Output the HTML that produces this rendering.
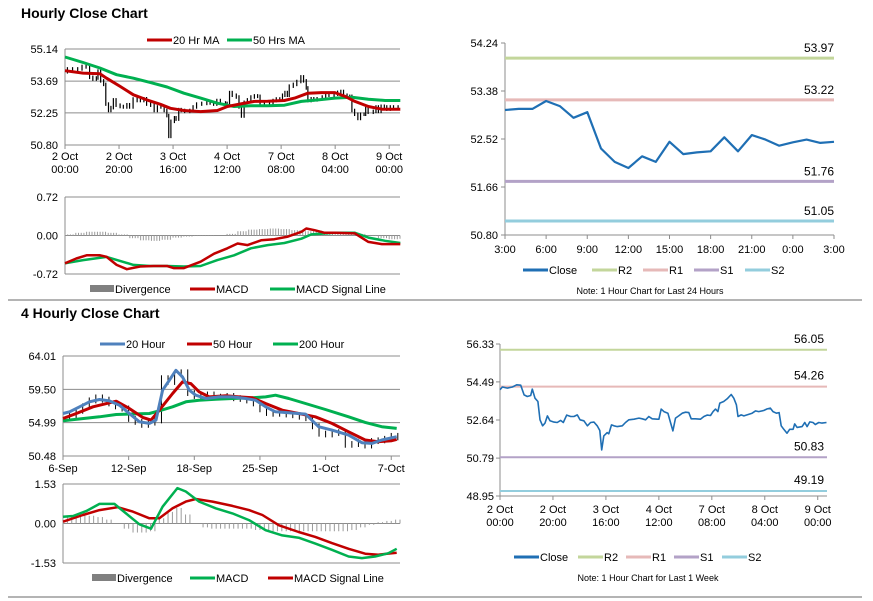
<!DOCTYPE html>
<html><head><meta charset="utf-8"><style>
html,body{margin:0;padding:0;background:#fff;}
svg{display:block;font-family:"Liberation Sans",Arial,sans-serif;}
</style></head><body>
<svg id="s" width="873" height="601" viewBox="0 0 873 601" xmlns="http://www.w3.org/2000/svg">
<text x="21" y="18" font-size="14" font-weight="bold">Hourly Close Chart</text>
<text x="21" y="318" font-size="14" font-weight="bold">4 Hourly Close Chart</text>
<line x1="8" y1="300" x2="862" y2="300" stroke="#888" stroke-width="1.2"/>
<line x1="8" y1="597" x2="862" y2="597" stroke="#888" stroke-width="1.2"/>
</svg>
<script>
// ---- Hourly / weekly close (hours index) ----
const wkHours=[0,0.9,2.8,4.7,6.3,7.8,9.1,10.3,11.6,12.2,13.2,14.3,15.1,16.1,17,17.9,18.9,20.4,21.6,22.9,23.9,25.2,26.7,27.9,29.2,30.2,31.7,33,34.2,35.5,36.7,37.7,38.4,39.2,40.5,41.1,42.1,43,44.3,46.2,47.4,48.7,50.6,52.5,53.7,55,56.2,57.5,59.4,60,60.9,61.9,63.4,64.4,65.3,66.3,67.5,68.8,70.1,71.3,72.2,73.8,75.7,77,78.2,79.5,80.5,81.4,82.3,83,84.5,85.8,87.3,88.3,89.3,89.9,91.1,92.1,93.3,95.2,96.5,97.7,99.6,100.9,102.1,103.1,104.4,105.4,106.2,107.2,108.4,109.4,110.7,111.3,112.2,114.1,115.1,116,117,118.2,119.1,120.4,121.6,123.3];
const wkClose=[54.11,54.24,54.19,54.24,54.35,54.33,53.86,53.78,53.83,54.14,53.70,53.54,52.65,52.36,52.49,52.84,52.60,52.54,52.52,52.62,52.52,52.88,52.81,52.81,52.89,52.65,52.60,52.36,52.52,52.54,52.36,52.13,51.19,51.87,52.03,51.97,52.40,52.36,52.32,52.36,52.52,52.65,52.68,52.73,52.70,52.65,52.81,52.70,52.68,52.68,53.17,53.05,52.97,52.52,52.11,52.73,52.84,52.97,53.02,53.00,52.70,52.70,52.68,52.81,52.88,52.86,53.05,53.17,53.05,53.46,53.54,53.67,53.88,53.70,53.38,52.81,52.89,52.84,52.89,52.97,53.08,53.05,53.10,53.18,53.22,53.05,52.97,53.00,52.36,52.19,52.00,52.19,52.19,52.45,52.28,52.32,52.52,52.32,52.55,52.52,52.42,52.52,52.49,52.52];
const ma20H=[0,6.7,12.9,15.4,20.4,25.3,30.3,35.3,39,44,50.2,56.4,60.1,65.1,70.1,75,81.2,85,89.9,94.9,99.9,103.6,107.3,112.3,117.3,124.1];
const ma20V=[54.16,54.05,54.02,53.82,53.45,53.07,52.84,52.64,52.46,52.36,52.31,52.36,52.54,52.66,52.77,52.78,52.81,52.92,53.14,53.17,53.17,53.00,52.77,52.54,52.42,52.42];
const ma50H=[0,6.7,12.9,19.1,25.3,31.5,37.8,44,50.2,56.4,62.6,68.8,75,81.2,87.5,93.7,99.9,106.2,112.3,118.5,124.1];
const ma50V=[54.78,54.53,54.28,53.98,53.82,53.63,53.42,53.14,52.92,52.69,52.54,52.57,52.57,52.60,52.77,52.84,52.92,52.96,52.87,52.81,52.81];
const macdH=[0,4.2,8,13,15.4,19.1,22.9,27.8,32.8,37.8,40.2,44,50.2,55.2,60.1,63.9,67.6,72.6,77.5,82.5,87.5,89.3,92.4,96.1,99.9,107.3,112.3,117.3,124.1];
const macdV=[-0.52,-0.43,-0.37,-0.37,-0.40,-0.55,-0.63,-0.58,-0.57,-0.57,-0.61,-0.61,-0.49,-0.34,-0.24,-0.15,-0.18,-0.09,-0.07,-0.02,0.07,0.13,0.10,0.05,0.05,0.04,-0.12,-0.16,-0.16];
const sigH=[0,6.7,15.4,25.3,31.5,37.8,44,50.2,56.4,62.6,68.8,75,81.2,87.5,91.2,99.9,107.3,112.3,118.5,124.1];
const sigV=[-0.52,-0.46,-0.40,-0.55,-0.57,-0.57,-0.58,-0.57,-0.46,-0.37,-0.24,-0.18,-0.14,-0.06,0.02,0.05,0.05,-0.04,-0.10,-0.14];
const divStep=4;
const divV=[0.02,0.05,0.07,0.07,0.05,0.02,-0.05,-0.09,-0.10,-0.08,-0.04,-0.02,-0.01,-0.01,0,0.03,0.08,0.11,0.12,0.13,0.12,0.10,0.08,0.09,0.06,0.05,0.03,0.03,0.01,-0.05,-0.07,-0.06];
const hourTickH=[0,20,40,60,80,100,120];
const hourTickL1=["2 Oct","2 Oct","3 Oct","4 Oct","7 Oct","8 Oct","9 Oct"];
const hourTickL2=["00:00","20:00","16:00","12:00","08:00","04:00","00:00"];
const p1Ticks=[55.14,53.69,52.25,50.80];
const m1Ticks=[0.72,0.00,-0.72];
// ---- 24h chart ----
const dayClose=[53.04,53.06,53.06,53.20,53.11,52.90,53.00,52.35,52.11,52.00,52.21,52.11,52.47,52.25,52.28,52.30,52.55,52.30,52.59,52.51,52.40,52.46,52.51,52.45,52.47];
const dayTicks=["3:00","6:00","9:00","12:00","15:00","18:00","21:00","0:00","3:00"];
const dayY=[54.24,53.38,52.52,51.66,50.80];
const dayLevels=[53.97,53.22,51.76,51.05];
const wkY=[56.33,54.49,52.64,50.79,48.95];
const wkLevels=[56.05,54.26,50.83,49.19];
const levelNames=["R2","R1","S1","S2"];
// ---- 4 hourly (bar index) ----
const c4Step=3;
const c4Close=[56.2,55.9,56.6,57.2,58.0,58.4,58.1,57.6,57.2,56.9,55.5,55.1,54.7,55.0,55.3,61.0,60.5,61.5,61.8,59.0,58.6,58.7,58.8,58.4,58.5,58.6,58.3,58.2,58.0,57.6,56.8,56.3,56.2,56.3,56.1,56.0,55.8,55.6,54.5,53.5,53.4,53.6,53.7,52.0,52.1,52.4,51.9,52.5,52.6,52.8,53.2,53.0];
const h20B=[0,3,7.6,12.1,16.7,21.2,25.8,30.3,34.9,39.5,42.5,45.5,48.6,51.6,54.6,57.7,60.7,65.3,71.3,77.4,83.5,88,92.6,97.1,103.2,110.8,116.8,122.9,130.5,136.6,141.1,145.7,152.5];
const h20V=[56.23,56.46,57.13,57.81,58.12,57.94,57.36,56.23,55.11,54.89,55.34,59.38,60.73,62.08,61.18,59.38,58.71,58.26,58.48,58.48,58.26,58.03,57.13,56.46,56.33,56.15,54.44,53.99,53.31,52.28,52.19,52.64,53.09];
const h50B=[0,6.1,13.7,24.3,30.3,36.4,40.2,44,50.1,54.6,58.4,62.2,66.8,74.4,80.4,86.5,92.6,100.2,107.7,115.3,122.9,130.5,138.1,144.1,150.2,152.5];
const h50V=[55.56,56.23,57.13,57.90,56.91,55.70,55.34,56.68,58.93,60.50,60.28,59.16,58.48,58.62,58.48,58.35,57.58,56.68,56.23,55.79,54.89,53.76,52.64,52.41,52.55,52.73];
const h200B=[0,16.7,24.3,39.5,44,50.1,56.2,62.2,69.8,77.4,86.5,92.6,97.1,103.2,110.8,119.9,130.5,138.1,145.7,152.5];
const h200V=[55.25,55.79,56.10,56.23,56.59,57.13,57.81,58.03,58.17,58.26,58.35,58.48,58.71,58.26,57.58,56.77,55.79,55.02,54.44,54.21];
const m4B=[0,4.6,10.6,16.7,23.5,28.8,34.9,40.2,45.5,52.3,56.1,62.2,69.8,77.4,85,92.6,100.2,107.7,115.3,122.9,130.5,136.6,142.6,148.7,152.5];
const m4V=[0.26,0.29,0.48,0.76,0.76,0.39,-0.03,-0.20,0.65,1.37,1.24,0.85,0.59,0.39,0.13,-0.26,-0.46,-0.55,-0.78,-1.02,-1.28,-1.34,-1.28,-1.15,-0.98];
const s4B=[0,9.1,16.7,25,31.9,39.5,44,50.1,56.1,60.7,68.3,77.4,85,91.1,98.7,107.7,115.3,122.9,130.5,138.1,144.1,152.5];
const s4V=[0.07,0.33,0.52,0.63,0.46,0.20,0.20,0.59,0.85,0.95,0.85,0.68,0.52,0.33,-0.07,-0.33,-0.52,-0.76,-0.98,-1.17,-1.21,-1.13];
const d4Step=4;
const d4V=[0.25,0.28,0.3,0.3,0.25,0.15,0.0,-0.2,-0.35,-0.35,-0.3,0.2,0.45,0.6,0.35,0.0,-0.15,-0.2,-0.2,-0.2,-0.2,-0.2,-0.25,-0.25,-0.3,-0.3,-0.3,-0.3,-0.3,-0.3,-0.3,-0.3,-0.3,-0.25,-0.15,-0.05,0.05,0.1,0.15];
const fourTickB=[0,30,60,90,120,150];
const fourTickL=["6-Sep","12-Sep","18-Sep","25-Sep","1-Oct","7-Oct"];
const p4Ticks=[64.01,59.50,54.99,50.48];
const m4Ticks=[1.53,0.00,-1.53];

const S=document.getElementById('s');const NS='http://www.w3.org/2000/svg';
function mk(tag,at){const e=document.createElementNS(NS,tag);for(const k in at)e.setAttribute(k,at[k]);S.appendChild(e);return e;}
function lin(d0,d1,r0,r1){return v=>r0+(v-d0)*(r1-r0)/(d1-d0);}
function txt(x,y,s,anchor,size,name){const e=mk('text',{x:x,y:y,'font-size':size||11,'text-anchor':anchor||'start',fill:'#000'});e.textContent=s;


return e;}
function path(xs,ys,sx,sy,color,w,name){let d='';for(let i=0;i<xs.length;i++)d+=(i?'L':'M')+sx(xs[i]).toFixed(1)+' '+sy(ys[i]).toFixed(1);
const e=mk('path',{d:d,fill:'none',stroke:color,'stroke-width':w,'stroke-linejoin':'round'});


return e;}
function hl(x1,x2,y,color,w,name){const e=mk('line',{x1:x1,x2:x2,y1:y,y2:y,stroke:color,'stroke-width':w});


return e;}
function vl(x,y1,y2,color,w,name){const e=mk('line',{x1:x,x2:x,y1:y1,y2:y2,stroke:color,'stroke-width':w});


return e;}
function legend(x,y,color,label,w,box){if(box){const r=mk('rect',{x:x,y:y-4,width:24,height:7,fill:color});

}
else hl(x,x+25,y,color,w||3,'legend-swatch-'+label.toLowerCase().replace(/ /g,'-'));
txt(x+(box?25:26),y+4,label,'start',11,'legend-entry-'+label.toLowerCase().replace(/ /g,'-'));}
function grid(ticks,sy,x0,x1,lx,fmt,name){ticks.forEach(t=>{hl(x0,x1,sy(t),'#8c8c8c',1,name+'-gridline');txt(lx,sy(t)+4,t.toFixed(2),'end',11,name+'-tick-label');});vl(x0,sy(ticks[0]),sy(ticks[ticks.length-1]),'#8c8c8c',1,name+'-axis');}

// ===== Panel 1: hourly price =====
const x1=lin(0,124,65,400),y1=lin(55.14,50.80,49,145);
grid(p1Ticks,y1,65,400,58,null,'hourly-y');
hourTickH.forEach((h,i)=>{vl(x1(h),145,149,'#8c8c8c',1,'hourly-x-tick');txt(x1(h),160,hourTickL1[i],'middle',11,'hourly-x-label');txt(x1(h),173,hourTickL2[i],'middle',11,'hourly-x-label');});
for(let i=1;i<wkClose.length;i++){const a=wkClose[i-1],b=wkClose[i];vl(x1(wkHours[i]),y1(Math.max(a,b)+0.08),y1(Math.min(a,b)-0.08),'#000',1.2,'hourly-price-bar');}
path(ma50H,ma50V,x1,y1,'#00b050',3,'ma50-line');
path(ma20H,ma20V,x1,y1,'#c00000',3,'ma20-line');
legend(147,40,'#c00000','20 Hr MA');legend(227,40,'#00b050','50 Hrs MA');
// MACD 1
const ym1=lin(0.72,-0.72,197,274);
grid(m1Ticks,ym1,65,400,58,null,'hourly-macd-y');
divV.forEach((v,i)=>{const h=i*divStep;for(let k=0;k<divStep;k++){const hh=h+k;if(hh>124)break;vl(x1(hh),ym1(0),ym1(v),'#9a9a9a',1,'hourly-divergence-bar');}});
path(sigH,sigV,x1,ym1,'#00b050',2.5,'hourly-signal-line');
path(macdH,macdV,x1,ym1,'#c00000',2.5,'hourly-macd-line');
legend(90,289,'#808080','Divergence',3,true);legend(190,289,'#c00000','MACD');legend(270,289,'#00b050','MACD Signal Line');

// ===== Panel 2: 24h =====
const xd=lin(0,24,505,834),yd=lin(54.24,50.80,43,235);
vl(505,43,235,'#8c8c8c',1,'day-y-axis');hl(505,834,235,'#8c8c8c',1,'day-x-axis');
dayY.forEach(t=>{hl(501,505,yd(t),'#8c8c8c',1,'day-y-tick');txt(498,yd(t)+4,t.toFixed(2),'end',11,'day-y-label');});
dayTicks.forEach((l,i)=>{vl(xd(i*3),235,239,'#8c8c8c',1,'day-x-tick');txt(xd(i*3),253,l,'middle',11,'day-x-label');});
const lvlCol=['#c3d69b','#e6b9b8','#b3a2c7','#93cddd'];
dayLevels.forEach((v,i)=>{hl(505,834,yd(v),lvlCol[i],3,'day-level-'+levelNames[i].toLowerCase());txt(834,yd(v)-6,v.toFixed(2),'end',12,'day-level-label');});
path(dayClose.map((v,i)=>i),dayClose,xd,yd,'#1f6fb4',2.2,'day-close-line');
legend(523,270,'#1f6fb4','Close');levelNames.forEach((n,i)=>legend(592+i*51,270,lvlCol[i],n));
txt(650,294,'Note: 1 Hour Chart for Last 24 Hours','middle',9,'day-note');

// ===== Panel 3: 4 hourly =====
const x4=lin(0,154,63,400),y4=lin(64.01,50.48,356,456);
grid(p4Ticks,y4,63,400,56,null,'four-y');
fourTickB.forEach((b,i)=>{vl(x4(b),456,460,'#8c8c8c',1,'four-x-tick');txt(x4(b),472,fourTickL[i],'middle',11,'four-x-label');});
for(let i=1;i<c4Close.length;i++){const a=c4Close[i-1],b=c4Close[i];const bb=i*c4Step;vl(x4(bb),y4(Math.max(a,b)+0.4),y4(Math.min(a,b)-0.4),'#000',1,'four-price-bar');}
path(h200B,h200V,x4,y4,'#00b050',3,'ma200-line');
path(h50B,h50V,x4,y4,'#c00000',3,'ma50h-line');
path(h20B,h20V,x4,y4,'#4f81bd',3,'ma20h-line');
legend(100,344,'#4f81bd','20 Hour');legend(187,344,'#c00000','50 Hour');legend(273,344,'#00b050','200 Hour');
const ym4=lin(1.53,-1.53,484,563);
grid(m4Ticks,ym4,63,400,56,null,'four-macd-y');
d4V.forEach((v,i)=>{for(let k=0;k<d4Step;k+=2){const bb=i*d4Step+k;if(bb>154)break;vl(x4(bb),ym4(0),ym4(v),'#9a9a9a',1,'four-divergence-bar');}});
path(s4B,s4V,x4,ym4,'#c00000',2.5,'four-signal-line');
path(m4B,m4V,x4,ym4,'#00b050',2.5,'four-macd-line');
legend(92,578,'#808080','Divergence',3,true);legend(190,578,'#00b050','MACD');legend(268,578,'#c00000','MACD Signal Line');

// ===== Panel 4: week =====
const xw=lin(0,123.5,500,827),yw=lin(56.33,48.95,344,496);
vl(500,344,496,'#8c8c8c',1,'week-y-axis');hl(500,827,496,'#8c8c8c',1,'week-x-axis');
wkY.forEach(t=>{hl(496,500,yw(t),'#8c8c8c',1,'week-y-tick');txt(494,yw(t)+4,t.toFixed(2),'end',11,'week-y-label');});
hourTickH.forEach((h,i)=>{vl(xw(h),496,500,'#8c8c8c',1,'week-x-tick');txt(xw(h),513,hourTickL1[i],'middle',11,'week-x-label');txt(xw(h),526,hourTickL2[i],'middle',11,'week-x-label');});
wkLevels.forEach((v,i)=>{hl(500,827,yw(v),lvlCol[i],2,'week-level-'+levelNames[i].toLowerCase());txt(824,yw(v)-7,v.toFixed(2),'end',12,'week-level-label');});
path(wkHours,wkClose,xw,yw,'#1f6fb4',1.6,'week-close-line');
legend(514,557,'#1f6fb4','Close');levelNames.forEach((n,i)=>legend(578+i*48,557,lvlCol[i],n));
txt(648,581,'Note: 1 Hour Chart for Last 1 Week','middle',9,'week-note');
</script>
</body></html>
